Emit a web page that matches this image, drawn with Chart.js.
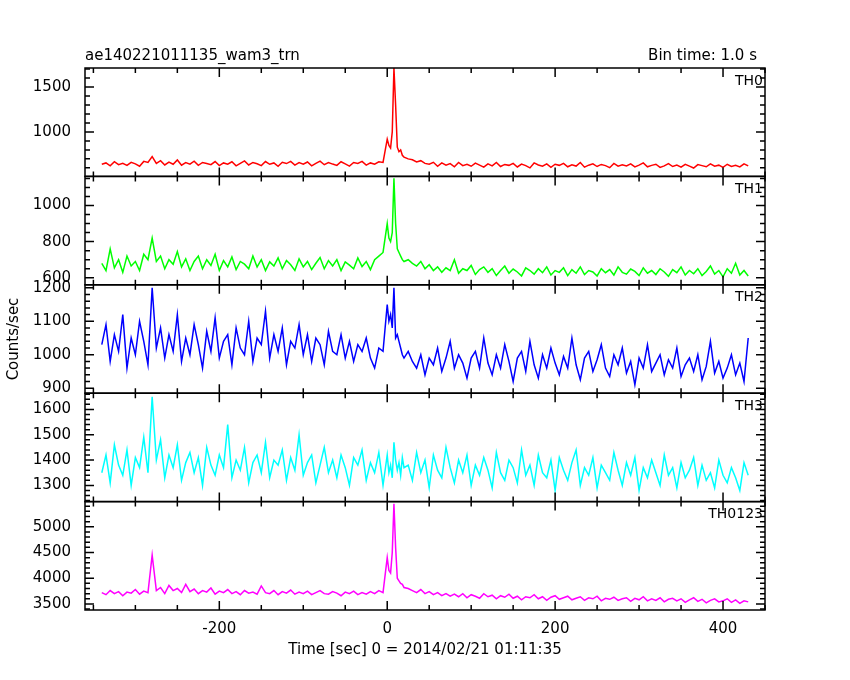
<!DOCTYPE html>
<html><head><meta charset="utf-8">
<script src="https://cdn.jsdelivr.net/npm/chart.js@4/dist/chart.umd.min.js"></script>
<style>html,body{margin:0;background:#fff}</style>
</head><body><canvas id="c" width="850" height="680"></canvas>
<script>
const preTimes=[];for(let t=-340;t<0;t+=5)preTimes.push(t);
const burstTimes=[0,2,4,6,8,10,12,14,16,18,20];
const postTimes=[];for(let t=25;t<=430;t+=5)postTimes.push(t);
const times=preTimes.concat(burstTimes,postTimes);

const th0=[640,655,622,668,635,650,628,662,645,618,672,660,725,650,680,632,665,640,688,630,658,642,675,628,660,648,635,670,625,655,640,668,622,650,678,632,660,645,625,670,640,655,618,662,648,672,630,658,640,665,622,650,675,635,660,642,628,668,645,620,660,650,672,630,655,640,668,660,
920,850,820,1000,1710,1300,830,780,800,740,720,
700,690,665,680,650,640,662,618,655,630,648,612,660,625,640,618,652,630,608,645,622,660,615,638,628,650,610,642,625,600,655,632,618,645,605,640,628,650,612,635,620,660,608,630,645,615,638,625,602,650,618,635,622,645,610,630,655,612,628,640,605,622,648,615,632,608,640,620,598,636,625,612,645,618,630,606,640,615,628,610,645,622,600,638,615,630,605
];
const th1=[680,640,760,655,700,630,720,665,690,640,730,700,820,690,720,650,700,675,745,660,705,640,690,720,650,700,668,730,640,695,660,715,645,690,675,650,720,660,700,640,688,665,710,650,695,672,640,705,660,690,645,680,712,650,695,665,700,640,688,670,650,710,662,690,645,700,720,740,
900,820,800,850,1150,900,760,740,720,700,690,
700,680,665,690,650,672,640,660,630,655,640,700,625,650,640,668,618,645,660,630,650,612,640,665,625,648,632,610,655,640,620,650,628,660,615,640,630,655,612,645,625,660,618,640,632,610,650,628,645,615,660,630,620,648,635,612,655,625,640,618,650,632,608,645,628,660,615,640,622,650,612,635,665,620,640,605,650,625,680,615,640,610,655,620
];
const th2=[1030,1090,980,1060,1010,1120,960,1050,1000,1100,1040,970,1200,1020,1080,990,1060,1010,1120,980,1050,1000,1090,1030,960,1070,1010,1110,990,1040,1060,970,1080,1020,1000,1100,980,1050,1030,1130,990,1060,1010,1080,970,1040,1020,1090,1000,1060,980,1050,1030,970,1070,1010,1000,1060,990,1040,980,1030,1010,1050,990,960,1020,1010,
1150,1100,1120,1080,1200,1050,1060,1040,1020,1000,990,
1010,980,960,1000,940,990,970,1020,950,990,1040,960,1000,975,930,990,1010,960,1050,975,940,1000,960,1030,980,920,990,1010,950,1040,970,930,1000,960,1020,975,940,995,960,1050,970,925,990,1010,950,985,1030,960,935,1000,970,1020,945,980,910,990,960,1030,950,975,1000,940,985,960,1020,935,970,990,950,1000,925,965,1040,945,980,930,960,1000,940,975,920,1050,960,1000
];
const th3=[1350,1420,1310,1460,1380,1340,1440,1300,1410,1370,1490,1350,1650,1400,1480,1330,1420,1370,1460,1320,1390,1430,1350,1410,1300,1450,1380,1340,1420,1370,1540,1330,1400,1360,1450,1310,1390,1420,1350,1470,1330,1400,1380,1440,1320,1410,1360,1500,1340,1390,1420,1310,1380,1450,1350,1400,1330,1420,1370,1300,1410,1380,1440,1320,1390,1350,1430,1300,
1420,1350,1380,1330,1470,1400,1360,1390,1340,1410,1370,
1380,1320,1430,1350,1400,1290,1420,1360,1330,1450,1370,1310,1400,1350,1420,1300,1380,1340,1410,1360,1290,1430,1350,1320,1400,1370,1310,1440,1340,1380,1300,1420,1350,1330,1400,1280,1410,1360,1320,1390,1440,1300,1370,1340,1410,1290,1380,1350,1320,1430,1360,1300,1390,1340,1410,1280,1370,1330,1400,1350,1300,1420,1340,1370,1290,1390,1330,1360,1410,1300,1380,1320,1350,1290,1400,1340,1310,1370,1330,1280,1390,1340,1300,1360
];
const th0123=[3720,3680,3760,3700,3740,3660,3730,3710,3780,3690,3750,3720,4450,3760,3820,3700,3860,3760,3800,3720,3880,3740,3790,3700,3760,3730,3810,3690,3750,3720,3780,3700,3740,3680,3760,3710,3730,3690,3850,3720,3700,3760,3680,3740,3710,3770,3690,3730,3700,3750,3680,3720,3760,3700,3690,3740,3710,3660,3730,3700,3750,3680,3720,3690,3740,3700,3760,3720,
4400,4150,4100,4500,5450,4600,4000,3950,3900,3880,3820,
3800,3760,3720,3780,3700,3740,3680,3720,3660,3700,3650,3690,3640,3700,3620,3680,3650,3610,3700,3640,3670,3600,3660,3630,3690,3610,3650,3580,3640,3620,3680,3600,3640,3570,3630,3660,3590,3620,3650,3580,3610,3640,3570,3620,3600,3650,3560,3610,3590,3630,3570,3600,3620,3550,3610,3580,3640,3560,3600,3570,3620,3540,3590,3610,3560,3600,3530,3580,3620,3550,3590,3520,3570,3600,3540,3560,3600,3530,3580,3510,3560,3540,3490,3550
];

const panels=[
 {id:'y0',name:'TH0',data:th0,color:'#ff0000',min:505,max:1711,major:500,minor:100},
 {id:'y1',name:'TH1',data:th1,color:'#00ff00',min:561,max:1161,major:200,minor:50},
 {id:'y2',name:'TH2',data:th2,color:'#0000ff',min:885,max:1209,major:100,minor:20},
 {id:'y3',name:'TH3',data:th3,color:'#00ffff',min:1236,max:1664,major:100,minor:20},
 {id:'y4',name:'TH0123',data:th0123,color:'#ff00ff',min:3382,max:5490,major:500,minor:100}
];
const FONT='"DejaVu Sans"';
function setTicks(s,min,max,step){const t=[];for(let v=Math.ceil(min/step)*step;v<=max+1e-9;v+=step)t.push({value:v});s.ticks=t;}
const scales={x:{type:'linear',min:-360,max:450,grid:{display:false},border:{display:false},
 ticks:{color:'#000',font:{family:FONT,size:15},padding:2,maxRotation:0,autoSkip:false,callback:v=>String(v)},
 afterBuildTicks:s=>setTicks(s,-360,450,200),
 afterFit:s=>{s.height=70;}}};
panels.slice().reverse().forEach(p=>{
 scales[p.id]={type:'linear',position:'left',stack:'s',stackWeight:1,offset:false,min:p.min,max:p.max,
  grid:{display:false},border:{display:false},
  ticks:{color:'#000',font:{family:FONT,size:15},padding:6,autoSkip:false,callback:v=>String(v)},
  afterBuildTicks:s=>setTicks(s,p.min,p.max,p.major),
  afterFit:s=>{s.width=85;}};
});
const deco={id:'deco',afterDraw(ch){
 const c=ch.ctx,a=ch.chartArea,xs=ch.scales.x;
 c.save();c.strokeStyle='#000';c.lineWidth=1.5;c.fillStyle='#000';
 panels.forEach(p=>{
  const s=ch.scales[p.id];
  c.strokeRect(a.left,s.top,a.right-a.left,s.bottom-s.top);
  c.beginPath();
  for(let v=Math.ceil(p.min/p.minor)*p.minor;v<=p.max;v+=p.minor){
   const y=s.getPixelForValue(v),L=(v%p.major===0)?9:5;
   c.moveTo(a.left,y);c.lineTo(a.left+L,y);c.moveTo(a.right,y);c.lineTo(a.right-L,y);}
  for(let v=-350;v<=450;v+=50){
   const x=xs.getPixelForValue(v),L=(v%200===0)?9:5;
   c.moveTo(x,s.top);c.lineTo(x,s.top+L);c.moveTo(x,s.bottom);c.lineTo(x,s.bottom-L);}
  c.stroke();
  c.font='14px '+FONT;c.textAlign='right';c.textBaseline='top';
  c.fillText(p.name,a.right-2,s.top+6);
 });
 c.font='15px '+FONT;c.textBaseline='alphabetic';
 c.textAlign='left';c.fillText('ae140221011135_wam3_trn',a.left,a.top-8);
 c.textAlign='right';c.fillText('Bin time: 1.0 s',a.right-8,a.top-8);
 c.textAlign='center';c.fillText('Time [sec] 0 = 2014/02/21 01:11:35',(a.left+a.right)/2,654);
 c.translate(18,(a.top+a.bottom)/2);c.rotate(-Math.PI/2);c.fillText('Counts/sec',0,0);
 c.restore();}};
new Chart(document.getElementById('c'),{type:'line',
 data:{datasets:panels.map(p=>({label:p.name,yAxisID:p.id,borderColor:p.color,borderWidth:1.5,pointRadius:0,tension:0,
  data:times.map((t,i)=>({x:t,y:p.data[i]}))}))},
 options:{responsive:false,animation:false,events:[],devicePixelRatio:1,
  layout:{padding:{top:68,right:85,left:0,bottom:0}},
  plugins:{legend:{display:false},tooltip:{enabled:false}},scales},
 plugins:[deco]});
</script></body></html>
